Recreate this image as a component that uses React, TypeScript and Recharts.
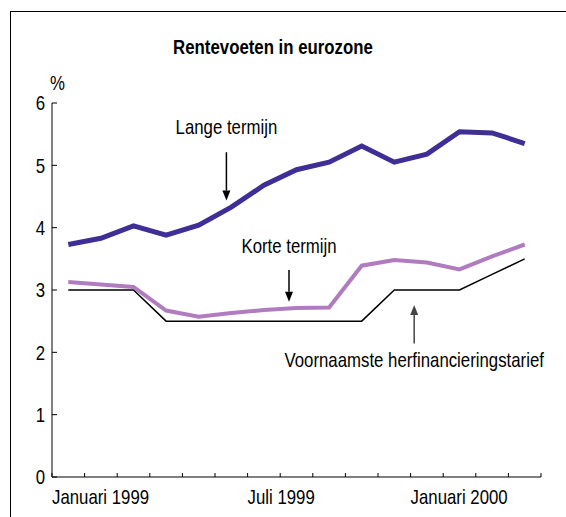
import React from 'react';
import { LineChart, Line, XAxis, YAxis, ReferenceLine } from 'recharts';

const months = ['jan 99', 'feb 99', 'mrt 99', 'apr 99', 'mei 99', 'jun 99', 'jul 99', 'aug 99', 'sep 99', 'okt 99', 'nov 99', 'dec 99', 'jan 00', 'feb 00', 'mrt 00'];
const langeTermijn = [3.73, 3.83, 4.03, 3.88, 4.04, 4.33, 4.68, 4.93, 5.05, 5.31, 5.05, 5.18, 5.54, 5.52, 5.35];
const korteTermijn = [3.13, 3.09, 3.05, 2.67, 2.57, 2.63, 2.68, 2.71, 2.72, 3.39, 3.48, 3.44, 3.33, 3.54, 3.73];
const herfinanciering = [3.0, 3.0, 3.0, 2.5, 2.5, 2.5, 2.5, 2.5, 2.5, 2.5, 3.0, 3.0, 3.0, 3.25, 3.5];
const yTicks = [0, 1, 2, 3, 4, 5, 6];
const xTicks = [0, 1, 2, 3, 4, 5, 6, 7, 8, 9, 10, 11, 12, 13, 14, 15];
const xTickLabels: Record<number, string> = { 0: 'Januari 1999', 6: 'Juli 1999', 11: 'Januari 2000' };

const data = months.map((m, i) => ({
  x: i + 0.5,
  month: m,
  lange: langeTermijn[i],
  korte: korteTermijn[i],
  refi: herfinanciering[i],
}));

const FONT = "'Liberation Sans', Arial, Helvetica, sans-serif";
const FS = 20;
const SX = 0.84;
const LANGE_COLOR = '#3e2e95';
const KORTE_COLOR = '#b07cbf';

const NarrowText = ({ x, y, anchor, children, bold, dy }: any) => (
  <text
    transform={`translate(${x},${y}) scale(${SX},1)`}
    x={0}
    y={0}
    dy={dy || 0}
    textAnchor={anchor}
    fontFamily={FONT}
    fontSize={FS}
    fontWeight={bold ? 'bold' : 'normal'}
    fill="#000"
  >
    {children}
  </text>
);

const XTick = (props: any) => {
  const { x, payload } = props;
  const label = xTickLabels[payload.value];
  if (!label) return null;
  return <NarrowText x={x} y={504} anchor="start">{label}</NarrowText>;
};

const YTick = (props: any) => {
  const { y, payload } = props;
  return <NarrowText x={45} y={y} anchor="end" dy="0.36em">{payload.value}</NarrowText>;
};

const makeArrow = (label: string, labelOffset: number, color: string) => (props: any) => {
  const { x1, y1, x2, y2 } = props;
  const dir = y2 > y1 ? 1 : -1;
  const headLen = 10;
  const headHalf = 4;
  const baseY = y2 - dir * headLen;
  return (
    <g>
      <line x1={x1} y1={y1} x2={x2} y2={baseY} stroke={color} strokeWidth={1.5} />
      <polygon points={`${x2},${y2} ${x2 - headHalf},${baseY} ${x2 + headHalf},${baseY}`} fill={color} />
      <NarrowText x={x1} y={y1 + labelOffset} anchor="middle">{label}</NarrowText>
    </g>
  );
};

export default function App() {
  return (
    <div style={{ position: 'fixed', left: 0, top: 0, width: 566, height: 517, background: '#fff', overflow: 'hidden' }}>
      <div style={{ position: 'absolute', left: 10, top: 11, width: 600, height: 600, borderTop: '1.5px solid #000', borderLeft: '1.5px solid #000' }} />
      <div style={{ position: 'absolute', left: 0, top: 0 }}>
        <LineChart width={566} height={517} data={data} margin={{ top: 103, right: 25, bottom: 0, left: 0 }}>
          <XAxis
            type="number"
            dataKey="x"
            domain={[0, 15]}
            ticks={xTicks}
            interval={0}
            tickSize={-4}
            height={40}
            axisLine={{ stroke: '#000', strokeWidth: 1 }}
            tickLine={{ stroke: '#000', strokeWidth: 1 }}
            tick={<XTick />}
          />
          <YAxis
            type="number"
            domain={[0, 6]}
            ticks={yTicks}
            interval={0}
            width={52}
            tickSize={-5}
            axisLine={{ stroke: '#000', strokeWidth: 1 }}
            tickLine={{ stroke: '#000', strokeWidth: 1 }}
            tick={<YTick />}
          />
          <Line type="linear" dataKey="refi" stroke="#000" strokeWidth={1.5} dot={false} isAnimationActive={false} />
          <Line type="linear" dataKey="korte" stroke={KORTE_COLOR} strokeWidth={4} dot={false} isAnimationActive={false} />
          <Line type="linear" dataKey="lange" stroke={LANGE_COLOR} strokeWidth={5} dot={false} isAnimationActive={false} />
          <ReferenceLine
            segment={[{ x: 5.35, y: 5.21 }, { x: 5.35, y: 4.435 }]}
            shape={makeArrow('Lange termijn', -18, '#000')}
          />
          <ReferenceLine
            segment={[{ x: 7.27, y: 3.32 }, { x: 7.27, y: 2.81 }]}
            shape={makeArrow('Korte termijn', -17, '#000')}
          />
          <ReferenceLine
            segment={[{ x: 11.11, y: 2.14 }, { x: 11.11, y: 2.76 }]}
            shape={makeArrow('Voornaamste herfinancieringstarief', 23, '#444')}
          />
        </LineChart>
      </div>
      <div style={{ position: 'absolute', left: 0, width: 546, top: 35, textAlign: 'center', fontFamily: FONT, fontWeight: 'bold', fontSize: FS, lineHeight: '24px', color: '#000', transform: `scaleX(${SX})` }}>
        Rentevoeten in eurozone
      </div>
      <div style={{ position: 'absolute', left: 50, top: 71, fontFamily: FONT, fontSize: FS, lineHeight: '24px', color: '#000', transform: `scaleX(${SX})`, transformOrigin: 'left center' }}>
        %
      </div>
    </div>
  );
}
